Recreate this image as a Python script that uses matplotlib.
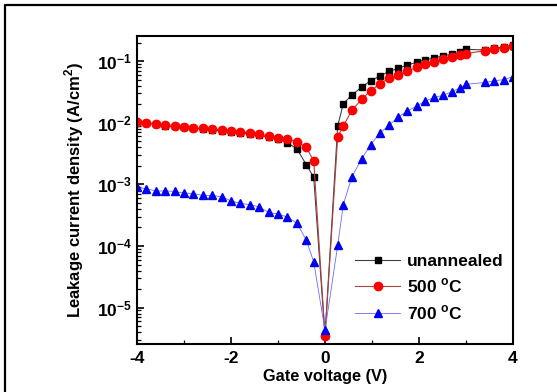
import numpy as np
import matplotlib
matplotlib.use("Agg")
import matplotlib.pyplot as plt
from matplotlib.ticker import FuncFormatter, LogLocator, MultipleLocator
from matplotlib.lines import Line2D

plt.rcParams['font.family'] = ['Liberation Sans', 'DejaVu Sans']
plt.rcParams['mathtext.fontset'] = 'custom'
plt.rcParams['mathtext.rm'] = 'Liberation Sans:bold'
plt.rcParams['mathtext.bf'] = 'Liberation Sans:bold'

# gate voltage (V), negative sweep and positive sweep
v_neg = [-4.0, -3.8, -3.6, -3.4, -3.2, -3.0, -2.8, -2.6, -2.4, -2.2, -2.0, -1.8, -1.6, -1.4,
         -1.2, -1.0, -0.8, -0.6, -0.4, -0.24, 0.0]
v_pos = [0.27, 0.39, 0.57, 0.78, 0.97, 1.17, 1.36, 1.56, 1.75, 1.95, 2.13, 2.32, 2.52, 2.70,
         2.88, 3.0, 3.4, 3.6, 3.8, 4.0]

# leakage current density (A/cm^2)
unann_neg = [1.0e-2, 9.8e-3, 9.4e-3, 9.0e-3, 8.7e-3, 8.4e-3, 8.1e-3, 7.9e-3, 7.7e-3, 7.4e-3,
             7.2e-3, 6.9e-3, 6.5e-3, 6.3e-3, 5.8e-3, 5.4e-3, 4.7e-3, 3.8e-3, 2.1e-3, 1.3e-3, 3.5e-6]
unann_pos = [8.9e-3, 2.04e-2, 2.8e-2, 3.8e-2, 4.8e-2, 5.75e-2, 6.8e-2, 7.6e-2, 8.7e-2, 9.5e-2,
             0.105, 0.112, 0.123, 0.129, 0.138, 0.155, 0.152, 0.162, 0.170, 0.180]

c500_neg = [1.02e-2, 1.0e-2, 9.5e-3, 9.1e-3, 8.9e-3, 8.5e-3, 8.3e-3, 8.1e-3, 7.9e-3, 7.6e-3,
            7.4e-3, 7.2e-3, 6.8e-3, 6.6e-3, 6.0e-3, 5.75e-3, 5.4e-3, 4.9e-3, 4.0e-3, 2.4e-3, 3.5e-6]
c500_pos = [5.9e-3, 8.9e-3, 1.58e-2, 2.4e-2, 3.3e-2, 4.3e-2, 5.25e-2, 6.0e-2, 6.9e-2, 7.9e-2,
            8.9e-2, 9.8e-2, 0.107, 0.115, 0.126, 0.132, 0.148, 0.158, 0.166, 0.178]

c700_neg = [8.9e-4, 8.5e-4, 7.8e-4, 7.8e-4, 7.7e-4, 7.2e-4, 7.1e-4, 6.6e-4, 6.6e-4, 6.3e-4,
            5.4e-4, 4.9e-4, 4.7e-4, 4.3e-4, 3.5e-4, 3.3e-4, 2.95e-4, 2.35e-4, 1.26e-4, 5.5e-5, 4.3e-6]
c700_pos = [1.02e-4, 4.7e-4, 1.32e-3, 2.6e-3, 4.4e-3, 6.8e-3, 9.1e-3, 1.23e-2, 1.55e-2, 1.86e-2,
            2.24e-2, 2.57e-2, 2.8e-2, 3.2e-2, 3.7e-2, 4.2e-2, 4.5e-2, 4.8e-2, 5.0e-2, 5.6e-2]

labels = ['unannealed', '500 $^\\mathregular{o}$C', '700 $^\\mathregular{o}$C']

fig = plt.figure(figsize=(5.57, 3.92), dpi=100)
ax = fig.add_axes([0.246, 0.122, 0.675, 0.786])

# outer frame (only left and top edges show in the reference)
fx, fy = 4.5 / 557, 1 - 4.5 / 392
fig.lines.append(Line2D([fx, fx, 1.0], [0.0, fy, fy], transform=fig.transFigure,
                        color='black', lw=1.6))

V = np.array(v_neg + v_pos)
# thin connecting lines, lighter than the markers
ax.plot(V, unann_neg + unann_pos, '-s', color='#404040', mfc='black', mec='black',
        lw=0.8, ms=5, label=labels[0])
ax.plot(V, c500_neg + c500_pos, '-o', color='#b04040', mfc='#ff0000', mec='#ff0000',
        lw=0.8, ms=6, label=labels[1])
ax.plot(V, c700_neg + c700_pos, '-^', color='#6a6aff', mfc='#0000ee', mec='#0000ee',
        lw=0.6, ms=6, label=labels[2])

ax.set_yscale('log')
ax.set_xlim(-4, 4)
ax.set_ylim(2.55e-6, 0.255)

ax.xaxis.set_major_locator(MultipleLocator(2))
ax.xaxis.set_minor_locator(MultipleLocator(1))
ax.yaxis.set_major_locator(LogLocator(base=10, numticks=10))
ax.yaxis.set_minor_locator(LogLocator(base=10, subs=np.arange(2, 10), numticks=20))
ax.yaxis.set_major_formatter(FuncFormatter(lambda v, p: '$\\mathbf{10^{%d}}$' % round(np.log10(v))))
ax.xaxis.set_major_formatter(FuncFormatter(lambda v, p: '%d' % v))

ax.tick_params(which='both', direction='in', top=False, right=False)
ax.tick_params(which='major', length=5, width=1.2, labelsize=12.5)
ax.tick_params(axis='x', which='major', pad=5)
ax.tick_params(which='minor', length=3, width=0.9)
for lab in ax.get_xticklabels():
    lab.set_fontweight('bold')
for s in ax.spines.values():
    s.set_linewidth(1.5)

ax.set_xlabel('Gate voltage (V)', fontsize=11.8, fontweight='bold', labelpad=2)
ax.set_ylabel('Leakage current density (A/cm$^\\mathregular{2}$)', fontsize=12,
              fontweight='bold', labelpad=8)

leg = ax.legend(loc='lower right', bbox_to_anchor=(0.994, 0.05), borderaxespad=0,
                frameon=False, handlelength=2.6, handletextpad=0.4, labelspacing=0.45,
                prop={'weight': 'bold', 'size': 12.5})

fig.savefig('out.png', dpi=100)
